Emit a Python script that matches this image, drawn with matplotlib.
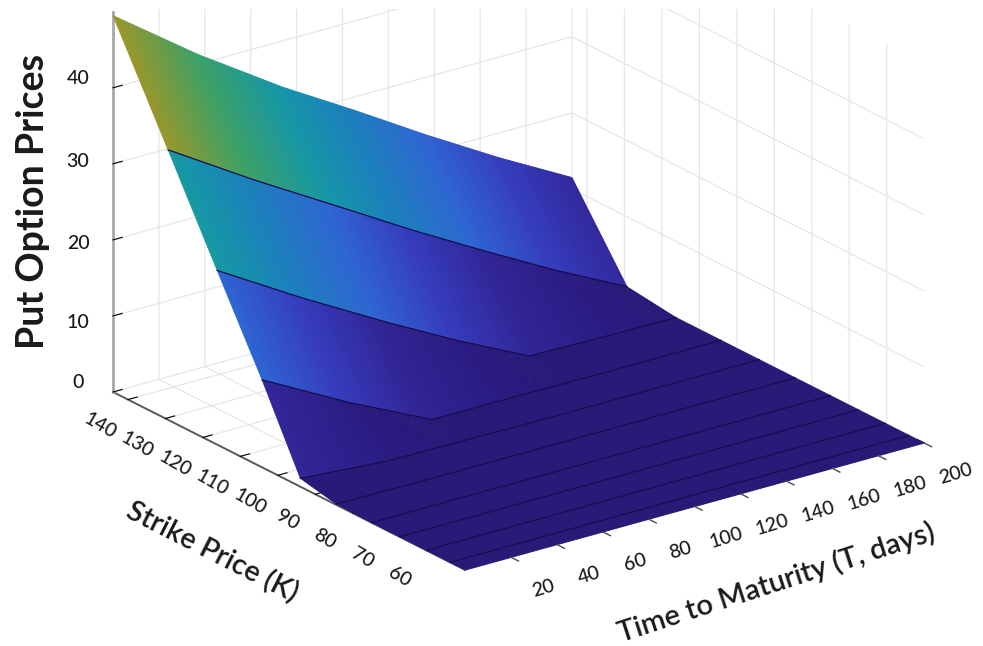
import numpy as np
import matplotlib
matplotlib.use("Agg")
import matplotlib.pyplot as plt
from matplotlib.colors import LinearSegmentedColormap, Normalize
from matplotlib.patches import Rectangle
from mpl_toolkits.mplot3d import proj3d

plt.rcParams['font.family'] = ['Lato', 'DejaVu Sans']

# Values
maturity_days = [0, 37, 74, 105, 136, 168, 200]
strike_prices = [144, 129.3, 116.2, 104.2, 94, 84.4, 75, 67.5, 60.4, 54, 50]
price_k144 = [49.5, 41.3, 33.9, 28.3, 22.5, 16.8, 11.5]
price_k129 = [35.5, 28.5, 21.9, 16.3, 11.0, 5.7, 0.8]
price_k116 = [22.9, 16.2, 9.9, 4.9, 0.3, 0.1, 0.0]
price_k104 = [11.5, 5.5, 0.1, 0.1, 0.0, 0.0, 0.0]
price_k94 = [1.1, 0.2, 0.1, 0.0, 0.0, 0.0, 0.0]
price_k84 = [0.1, 0, 0, 0, 0, 0, 0]
price_k75 = [0, 0, 0, 0, 0, 0, 0]
price_k68 = [0, 0, 0, 0, 0, 0, 0]
price_k60 = [0, 0, 0, 0, 0, 0, 0]
price_k54 = [0, 0, 0, 0, 0, 0, 0]
price_k50 = [0, 0, 0, 0, 0, 0, 0]
t_ticks = [20, 40, 60, 80, 100, 120, 140, 160, 180, 200]
k_ticks = [60, 70, 80, 90, 100, 110, 120, 130, 140]
z_ticks = [0, 10, 20, 30, 40]
color_stops = [(0, (38, 24, 118)), (5, (40, 26, 128)), (11, (48, 36, 150)),
               (17, (52, 60, 190)), (23, (45, 100, 210)), (30, (25, 130, 185)),
               (35, (20, 150, 165)), (42, (60, 160, 100)), (50, (155, 150, 40))]

W, H = 983, 646
fig = plt.figure(figsize=(W / 100, H / 100), dpi=100, facecolor='white')
ax = fig.add_axes([0, 0, 1, 1], projection='3d', proj_type='ortho', facecolor='none')
ax.view_init(elev=21.96, azim=233.5)
ax.set_box_aspect((571, 592, 410))
ax.set_xlim(0, 200, view_margin=0)
ax.set_ylim(50, 144, view_margin=0)
ax.set_zlim(0, 50, view_margin=0)
ax.computed_zorder = False

cmap = LinearSegmentedColormap.from_list(
    'surf', [(v / 50, tuple(c / 255 for c in rgb)) for v, rgb in color_stops])
norm = Normalize(0, 50)

rows = np.array([price_k144, price_k129, price_k116, price_k104, price_k94, price_k84,
                 price_k75, price_k68, price_k60, price_k54, price_k50], dtype=float)
# finer T sampling is only for smooth (interpolated) shading of the read surface
t_fine = np.linspace(0, 200, 161)
z_fine = np.array([np.interp(t_fine, maturity_days, r) for r in rows])
TT, KK = np.meshgrid(t_fine, strike_prices)
surf = ax.plot_surface(TT, KK, z_fine, facecolors=cmap(norm(z_fine)), rstride=1, cstride=1,
                       shade=False, linewidth=0.5, antialiased=True, zorder=2)
surf.set_edgecolor(surf._facecolor3d.copy())
for k, z in zip(strike_prices[1:-1], z_fine[1:-1]):
    ax.plot(t_fine, np.full_like(t_fine, k), z, color=(0.09, 0.06, 0.30), lw=0.9, zorder=3)
# T-axis ticks sit just outside the surface's front edge
for t in t_ticks:
    ax.plot([t, t], [50, 48], [0, 0], color=(0.3, 0.3, 0.3), lw=1.0, zorder=4)

GRID = (0.9, 0.9, 0.9)
for axis in (ax.xaxis, ax.yaxis, ax.zaxis):
    axis.set_pane_color((1, 1, 1, 0))
    axis.pane.set_edgecolor((1, 1, 1, 0))
    axis._axinfo['grid'].update(color=GRID, linewidth=0.9)
    axis._axinfo['tick'].update(inward_factor=0.0, outward_factor=0.25)
ax.xaxis.line.set_color((0.45, 0.45, 0.45)); ax.xaxis.line.set_linewidth(1.0)
ax.yaxis.line.set_color((0.35, 0.35, 0.35)); ax.yaxis.line.set_linewidth(1.4)
ax.zaxis.line.set_color((0.66, 0.66, 0.66)); ax.zaxis.line.set_linewidth(2.0)
ax.set_xticks(t_ticks); ax.set_yticks(k_ticks); ax.set_zticks(z_ticks)
ax.set_xticklabels([]); ax.set_yticklabels([]); ax.set_zticklabels([])

def to_px(x, y, z):
    u, v, _ = proj3d.proj_transform(x, y, z, ax.get_proj())
    return ax.transData.transform((u, v))

# fit the projected box onto the reference's pixel frame
A_target = np.array([113.0, H - 392.0])
T_span = np.hypot(459, 127)
pos = np.array([0.0, 0.0, float(W), float(W)])
for _ in range(3):
    ax.set_position([pos[0] / W, pos[1] / H, pos[2] / W, pos[3] / H])
    fig.canvas.draw()
    a = to_px(0, 144, 0); b = to_px(200, 144, 0)
    s = T_span / np.hypot(*(b - a))
    c = pos[:2] + pos[2:] / 2
    pos[2:] *= s
    c2 = A_target + (c - a) * s
    pos[:2] = c2 - pos[2:] / 2
ax.set_position([pos[0] / W, pos[1] / H, pos[2] / W, pos[3] / H])
fig.canvas.draw()

def tick_label(value, point, dx, dy, rotation):
    px = to_px(*point)
    fig.text((px[0] + dx) / W, (px[1] - dy) / H, str(value), rotation=rotation, ha='center',
             va='center', fontsize=14, fontweight='medium', color='#1a1a1a', zorder=11,
             rotation_mode='anchor')

for t in t_ticks:
    tick_label(t, (t, 50, 0), 32, 31, 17)
for k in k_ticks:
    tick_label(k, (0, k, 0), -28, 26, -30)
z_label_dy = [-10, 7, 4, -2, -9]
for z, dy in zip(z_ticks, z_label_dy):
    tick_label(z, (0, 144, z), -35, dy, 0)

fig.add_artist(Rectangle((0, 1 - 9 / H), 1, 9 / H, transform=fig.transFigure,
                         facecolor='white', edgecolor='none', zorder=10))
fig.text(33 / W, 1 - 201 / H, 'Put Option Prices', rotation=90, ha='center', va='center',
         fontsize=27, fontweight='bold', color='#1a1a1a', zorder=11)
fig.text(212 / W, 1 - 552 / H, 'Strike Price (K)', rotation=-27, ha='center', va='center',
         fontsize=20.8, fontweight='semibold', color='#1a1a1a', zorder=11)
fig.text(776 / W, 1 - 583 / H, 'Time to Maturity (T, days)', rotation=18, ha='center', va='center',
         fontsize=21, fontweight='semibold', color='#1a1a1a', zorder=11)
fig.savefig('out.png', dpi=100)
